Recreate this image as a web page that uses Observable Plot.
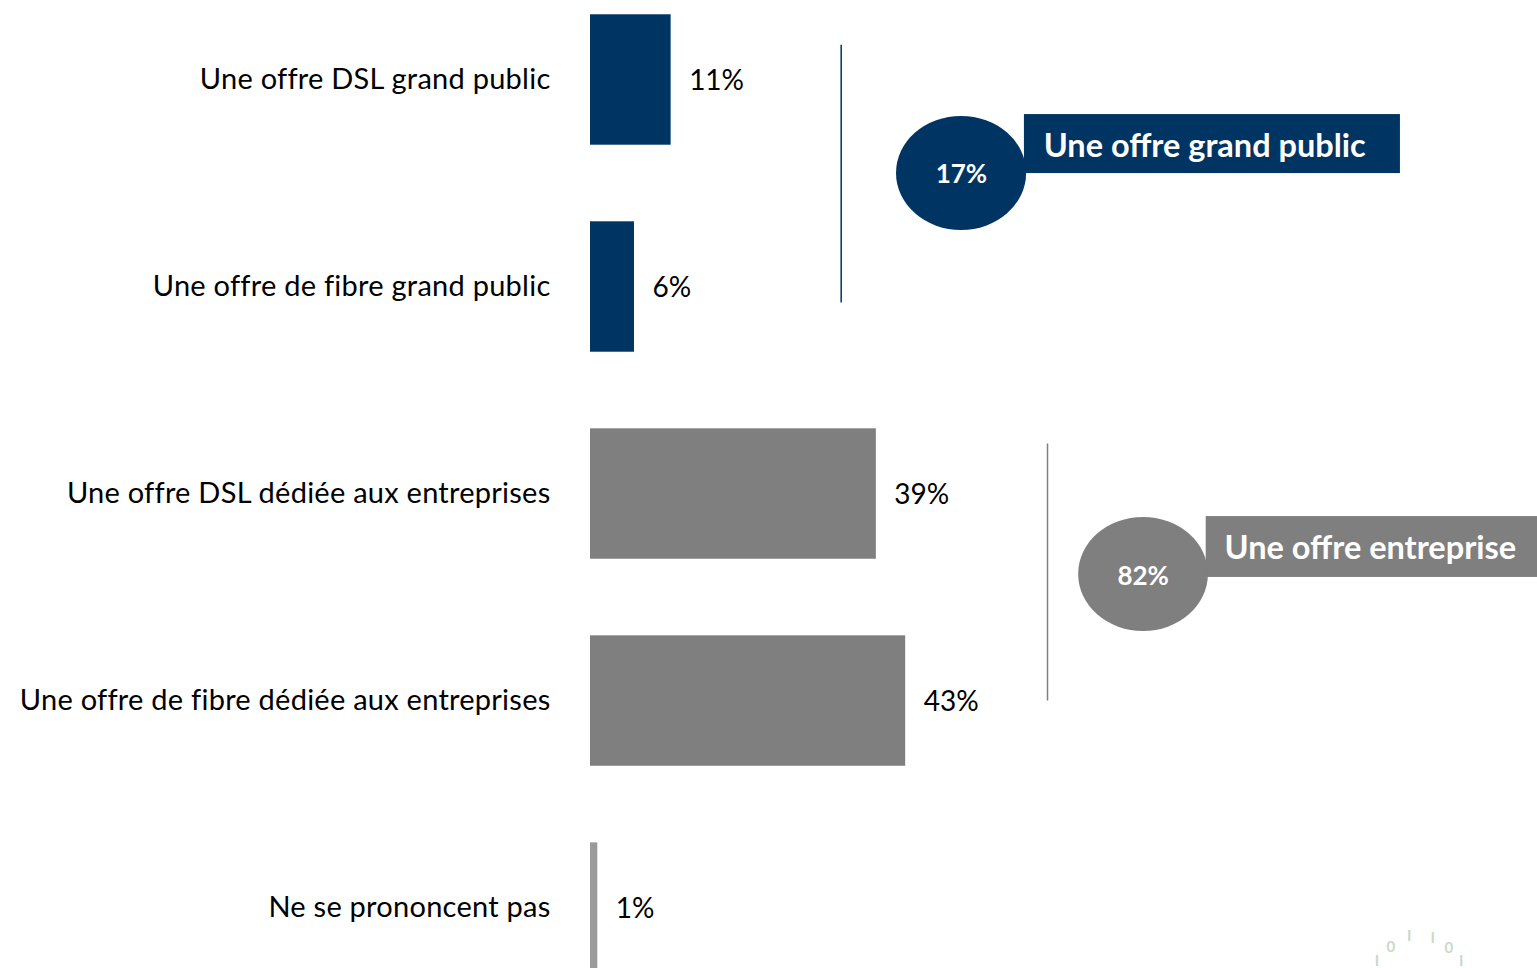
<!DOCTYPE html>
<html><head><meta charset="utf-8">
<script src="https://cdn.jsdelivr.net/npm/d3@7"></script>
<script src="https://cdn.jsdelivr.net/npm/@observablehq/plot@0.6"></script>
<style>html,body{margin:0;padding:0;overflow:hidden;background:#fff}
.cat text{letter-spacing:0.25px}</style>
</head><body><div id="chart"></div>
<script>
// Data
const categories = [
  "Une offre DSL grand public",
  "Une offre de fibre grand public",
  "Une offre DSL dédiée aux entreprises",
  "Une offre de fibre dédiée aux entreprises",
  "Ne se prononcent pas"
];
const values = [11, 6, 39, 43, 1];
const valueLabels = ["11%", "6%", "39%", "43%", "1%"];
const barColors = ["#003462", "#003462", "#7f7f7f", "#7f7f7f", "#9a9a9a"];

// Group annotations (in chart units: x = %, y = category index)
const groupNames = ["Une offre grand public", "Une offre entreprise"];
const groupTotals = ["17%", "82%"];
const groupColors = ["#003462", "#7f7f7f"];
const groupBracketX = [34.2, 62.35];
const groupBracketY1 = [-0.17, 1.756];
const groupBracketY2 = [1.075, 2.998];
const groupBannerX1 = [59.2, 84.0];
const groupBannerX2 = [110.5, 131];
const groupBannerY1 = [0.167, 2.109];
const groupBannerY2 = [0.452, 2.403];
const groupBubbleX1 = [41.75, 66.6];
const groupBubbleX2 = [59.5, 84.3];
const groupBubbleY1 = [0.176, 2.113];
const groupBubbleY2 = [0.727, 2.664];
const groupNameX = [83.8, 106.4];
const groupNameY = [0.321, 2.263];
const groupTotalX = [50.6, 75.4];
const groupTotalY = [0.4565, 2.399];

const data = categories.map((c, i) => ({i, category: c, value: values[i], label: valueLabels[i], color: barColors[i]}));
const groups = groupNames.map((g, i) => ({
  name: g, total: groupTotals[i], color: groupColors[i],
  bx: groupBracketX[i], by1: groupBracketY1[i], by2: groupBracketY2[i],
  rx1: groupBannerX1[i], rx2: groupBannerX2[i], ry1: groupBannerY1[i], ry2: groupBannerY2[i],
  ex1: groupBubbleX1[i], ex2: groupBubbleX2[i], ey1: groupBubbleY1[i], ey2: groupBubbleY2[i],
  nx: groupNameX[i], ny: groupNameY[i], tx: groupTotalX[i], ty: groupTotalY[i]
}));

// decorative logo fragment (bottom right)
const decoChars = ["I", "0", "I", "I", "0", "I"];
const decoX = [107.3, 109.2, 111.7, 114.9, 117.1, 118.8];
const decoY = [4.256, 4.19, 4.135, 4.145, 4.195, 4.256];

const BAR_HALF = 0.315;
const font = "Lato, 'Open Sans', sans-serif";

const chart = Plot.plot({
  width: 1537,
  height: 968,
  marginTop: 0, marginBottom: 0, marginLeft: 0, marginRight: 0,
  x: {domain: [0, 129.2], range: [590, 1537], axis: null},
  y: {domain: [-0.384, 4.292], range: [0, 968], axis: null},
  style: {fontFamily: font, background: "#fff"},
  marks: [
    Plot.rect(data, {x1: 0, x2: "value", y1: d => d.i - BAR_HALF, y2: d => d.i + BAR_HALF, fill: "color"}),
    Plot.text(data, {x: 0, y: "i", text: "category", textAnchor: "end", dx: -40, fontSize: 29, fill: "#000", className: "cat"}),
    Plot.text(data, {x: "value", y: "i", text: "label", textAnchor: "start", dx: 18, dy: 1, fontSize: 28, fill: "#000"}),
    Plot.link(groups, {x1: "bx", x2: "bx", y1: "by1", y2: "by2", stroke: "color", strokeWidth: 1.5}),
    Plot.rect(groups, {x1: "rx1", x2: "rx2", y1: "ry1", y2: "ry2", fill: "color"}),
    Plot.rect(groups, {x1: "ex1", x2: "ex2", y1: "ey1", y2: "ey2", fill: "color", rx: 65, ry: 57}),
    Plot.text(groups, {x: "nx", y: "ny", text: "name", fill: "#fff", fontWeight: "bold", fontSize: 32.5}),
    Plot.text(groups, {x: "tx", y: "ty", text: "total", fill: "#fff", fontWeight: "bold", fontSize: 26}),
    Plot.text(decoChars, {x: (d, i) => decoX[i], y: (d, i) => decoY[i], text: d => d, fill: "#c9d9c9", fontWeight: "bold", fontSize: 15})
  ]
});
document.getElementById("chart").appendChild(chart);
</script>
</body></html>
